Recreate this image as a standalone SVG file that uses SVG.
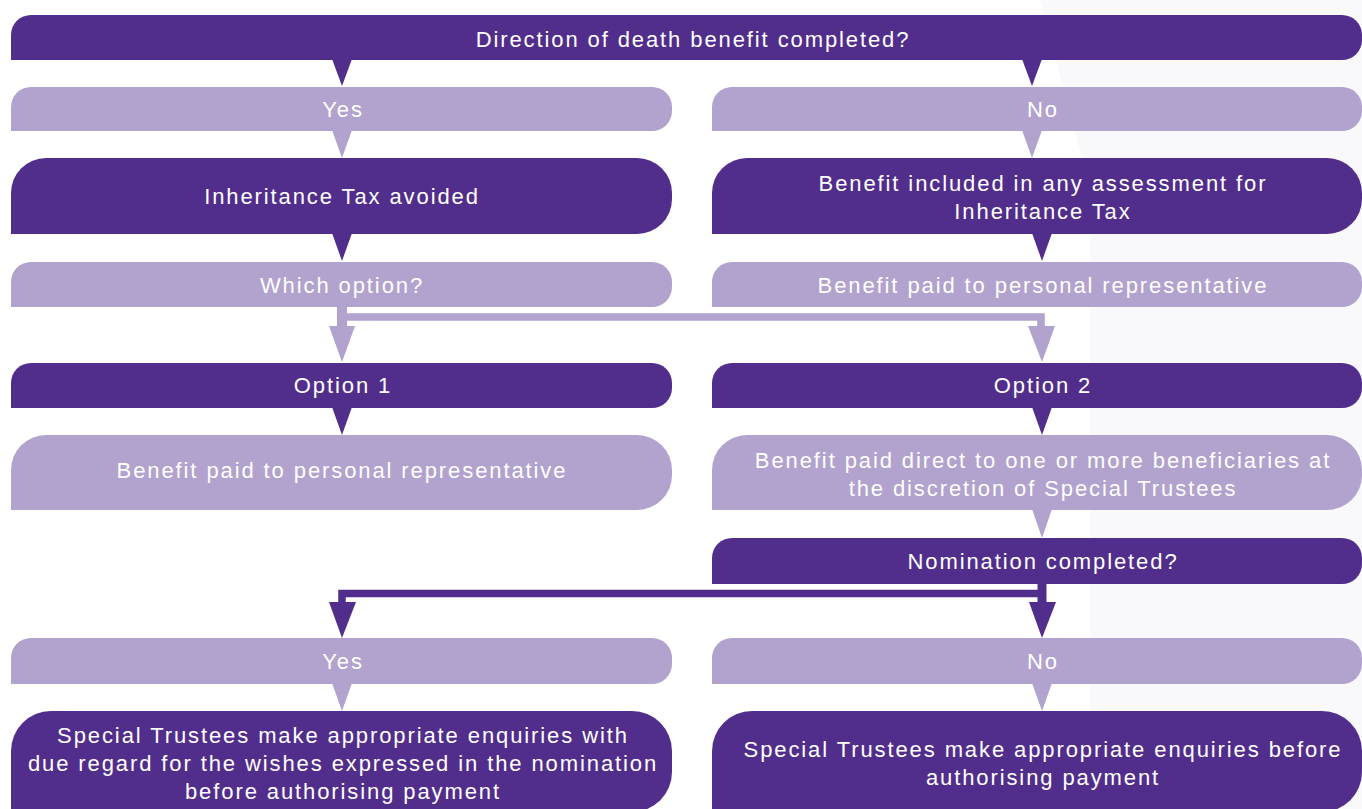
<svg xmlns="http://www.w3.org/2000/svg" width="1362" height="809" viewBox="0 0 1362 809">
<style>
.d{fill:#522e8c}
.l{fill:#b1a2ce}
.t{fill:#ffffff;font-family:"Liberation Sans",Arial,sans-serif;font-size:22px;letter-spacing:1.9px;text-anchor:middle}
.lc{stroke:#b1a2ce;fill:none;stroke-linecap:butt;stroke-linejoin:miter}
.dc{stroke:#522e8c;fill:none;stroke-linecap:butt;stroke-linejoin:miter}
</style>
<rect x="0" y="0" width="1362" height="809" fill="#ffffff"/>
<polygon points="1040,0 1362,0 1362,809 1090,809 1090,190" fill="#f9f9fc"/>

<g id="n-direction">
<path class="d" d="M11,60 L11,35 A20,20 0 0 1 31,15 L1342,15 A20,20 0 0 1 1362,35 L1362,40 A20,20 0 0 1 1342,60 Z"/>
<polygon class="d" points="332,59 352,59 342,86"/>
<polygon class="d" points="1022,59 1042,59 1032,86"/>
<text class="t" x="693" y="47">Direction of death benefit completed?</text>
</g>

<g id="n-yes1">
<path class="l" d="M11,131 L11,107 A20,20 0 0 1 31,87 L652,87 A20,20 0 0 1 672,107 L672,111 A20,20 0 0 1 652,131 Z"/>
<polygon class="l" points="332,130 352,130 342,158"/>
<text class="t" x="343" y="117">Yes</text>
</g>

<g id="n-no1">
<path class="l" d="M712,131 L712,107 A20,20 0 0 1 732,87 L1342,87 A20,20 0 0 1 1362,107 L1362,111 A20,20 0 0 1 1342,131 Z"/>
<polygon class="l" points="1022,130 1042,130 1032,158"/>
<text class="t" x="1043" y="117">No</text>
</g>

<g id="n-iht-avoided">
<path class="d" d="M11,234 L11,193 A35,35 0 0 1 46,158 L637,158 A35,35 0 0 1 672,193 L672,199 A35,35 0 0 1 637,234 Z"/>
<polygon class="d" points="332,233 352,233 342,261"/>
<text class="t" x="342" y="204">Inheritance Tax avoided</text>
</g>

<g id="n-benefit-included">
<path class="d" d="M712,234 L712,193 A35,35 0 0 1 747,158 L1327,158 A35,35 0 0 1 1362,193 L1362,199 A35,35 0 0 1 1327,234 Z"/>
<polygon class="d" points="1032,233 1052,233 1042,261"/>
<text class="t" x="1043" y="191">Benefit included in any assessment for</text>
<text class="t" x="1043" y="219">Inheritance Tax</text>
</g>

<g id="n-which-option">
<path class="l" d="M11,307 L11,282 A20,20 0 0 1 31,262 L652,262 A20,20 0 0 1 672,282 L672,287 A20,20 0 0 1 652,307 Z"/>
<text class="t" x="342" y="293">Which option?</text>
</g>

<g id="n-paid-pr-right">
<path class="l" d="M712,307 L712,282 A20,20 0 0 1 732,262 L1342,262 A20,20 0 0 1 1362,282 L1362,287 A20,20 0 0 1 1342,307 Z"/>
<text class="t" x="1043" y="293">Benefit paid to personal representative</text>
</g>

<g id="n-option1">
<path class="d" d="M11,408 L11,383 A20,20 0 0 1 31,363 L652,363 A20,20 0 0 1 672,383 L672,388 A20,20 0 0 1 652,408 Z"/>
<polygon class="d" points="332,407 352,407 342,435"/>
<text class="t" x="343" y="393">Option 1</text>
</g>

<g id="n-option2">
<path class="d" d="M712,408 L712,383 A20,20 0 0 1 732,363 L1342,363 A20,20 0 0 1 1362,383 L1362,388 A20,20 0 0 1 1342,408 Z"/>
<polygon class="d" points="1032,407 1052,407 1042,435"/>
<text class="t" x="1043" y="393">Option 2</text>
</g>

<g id="n-paid-pr-left">
<path class="l" d="M11,510 L11,470 A35,35 0 0 1 46,435 L637,435 A35,35 0 0 1 672,470 L672,475 A35,35 0 0 1 637,510 Z"/>
<text class="t" x="342" y="478">Benefit paid to personal representative</text>
</g>

<g id="n-paid-direct">
<path class="l" d="M712,510 L712,470 A35,35 0 0 1 747,435 L1327,435 A35,35 0 0 1 1362,470 L1362,475 A35,35 0 0 1 1327,510 Z"/>
<polygon class="l" points="1032,509 1052,509 1042,538"/>
<text class="t" x="1043" y="468">Benefit paid direct to one or more beneficiaries at</text>
<text class="t" x="1043" y="496">the discretion of Special Trustees</text>
</g>

<g id="n-nomination">
<path class="d" d="M712,584 L712,558 A20,20 0 0 1 732,538 L1342,538 A20,20 0 0 1 1362,558 L1362,564 A20,20 0 0 1 1342,584 Z"/>
<text class="t" x="1043" y="569">Nomination completed?</text>
</g>

<g id="n-yes2">
<path class="l" d="M11,684 L11,658 A20,20 0 0 1 31,638 L652,638 A20,20 0 0 1 672,658 L672,664 A20,20 0 0 1 652,684 Z"/>
<polygon class="l" points="332,683 352,683 342,711"/>
<text class="t" x="343" y="669">Yes</text>
</g>

<g id="n-no2">
<path class="l" d="M712,684 L712,658 A20,20 0 0 1 732,638 L1342,638 A20,20 0 0 1 1362,658 L1362,664 A20,20 0 0 1 1342,684 Z"/>
<polygon class="l" points="1032,683 1052,683 1042,711"/>
<text class="t" x="1043" y="669">No</text>
</g>

<g id="n-enquiries-wishes">
<path class="d" d="M11,812 L11,751 A40,40 0 0 1 51,711 L632,711 A40,40 0 0 1 672,751 L672,772 A40,40 0 0 1 632,812 Z"/>
<text class="t" x="343" y="743">Special Trustees make appropriate enquiries with</text>
<text class="t" x="343" y="771">due regard for the wishes expressed in the nomination</text>
<text class="t" x="343" y="799">before authorising payment</text>
</g>

<g id="n-enquiries">
<path class="d" d="M712,812 L712,751 A40,40 0 0 1 752,711 L1322,711 A40,40 0 0 1 1362,751 L1362,772 A40,40 0 0 1 1322,812 Z"/>
<text class="t" x="1043" y="757">Special Trustees make appropriate enquiries before</text>
<text class="t" x="1043" y="785">authorising payment</text>
</g>

<g id="connectors">
<line class="lc" x1="342" y1="307" x2="342" y2="327" stroke-width="10"/>
<polyline class="lc" points="342,317 1041,317 1041,327" stroke-width="7.5"/>
<polygon class="l" points="329,326 355,326 342,362"/>
<polygon class="l" points="1028,326 1055,326 1042,362"/>
<line class="dc" x1="1042" y1="584" x2="1042" y2="603" stroke-width="9"/>
<polyline class="dc" points="1042,593.5 342,593.5 342,603" stroke-width="7.5"/>
<polygon class="d" points="329,602 356,602 342,638"/>
<polygon class="d" points="1029,602 1056,602 1042,638"/>
</g>
</svg>
